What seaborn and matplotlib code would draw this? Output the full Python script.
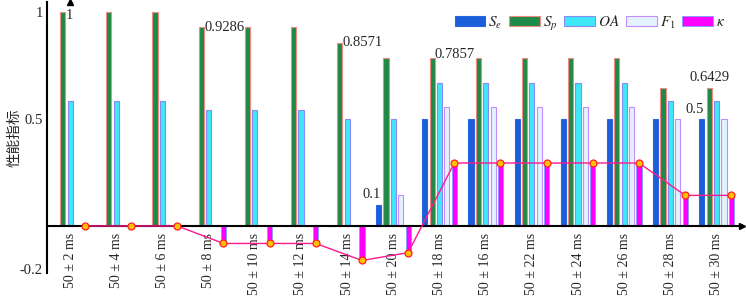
import numpy as np
import pandas as pd
import matplotlib
matplotlib.use('Agg')
import matplotlib.pyplot as plt
import seaborn as sns

# 数据
conds = ['50 ± 2 ms', '50 ± 4 ms', '50 ± 6 ms', '50 ± 8 ms', '50 ± 10 ms',
         '50 ± 12 ms', '50 ± 14 ms', '50 ± 20 ms', '50 ± 18 ms', '50 ± 16 ms',
         '50 ± 22 ms', '50 ± 24 ms', '50 ± 26 ms', '50 ± 28 ms', '50 ± 30 ms']
se = [0, 0, 0, 0, 0, 0, 0, 0.1, 0.5, 0.5, 0.5, 0.5, 0.5, 0.5, 0.5]
sp = [1, 1, 1, 0.9286, 0.9286, 0.9286, 0.8571, 0.7857, 0.7857, 0.7857,
      0.7857, 0.7857, 0.7857, 0.6429, 0.6429]
oa = [0.5833, 0.5833, 0.5833, 0.5417, 0.5417, 0.5417, 0.5, 0.5, 0.6667,
      0.6667, 0.6667, 0.6667, 0.6667, 0.5833, 0.5833]
f1 = [0, 0, 0, 0, 0, 0, 0, 0.1429, 0.5556, 0.5556, 0.5556, 0.5556, 0.5556,
      0.5, 0.5]
kappa = [0, 0, 0, -0.082, -0.082, -0.082, -0.1613, -0.125, 0.2941, 0.2941,
         0.2941, 0.2941, 0.2941, 0.1429, 0.1429]

metrics = ['Se', 'Sp', 'OA', 'F1', 'kappa']
labels = ['$S_e$', '$S_p$', '$OA$', '$F_1$', r'$\kappa$']
fills = {'Se': '#1a5fd8', 'Sp': '#1e8a4a', 'OA': '#3ee8f8', 'F1': '#e3f2ff', 'kappa': '#ff00ff'}
edges = {'Se': '#2a66e0', 'Sp': '#f08a80', 'OA': '#8a8af5', 'F1': '#c38cff', 'kappa': '#7aa0ff'}

df = pd.DataFrame({
    'cond': conds * 5,
    'metric': np.repeat(metrics, len(conds)),
    'value': se + sp + oa + f1 + kappa,
})

sns.set_style('white')
plt.rcParams['font.family'] = ['Liberation Serif', 'Noto Sans CJK SC']
plt.rcParams['mathtext.fontset'] = 'stix'
plt.rcParams['axes.unicode_minus'] = False

fig = plt.figure(figsize=(7.46, 3.05), dpi=100)
ax = fig.add_axes([47 / 746, 1 - 273 / 305, 695 / 746, 270.6 / 305])

sns.barplot(data=df, x='cond', y='value', hue='metric', order=conds,
            hue_order=metrics, palette=fills, width=0.8, gap=0.3,
            saturation=1, legend=False, ax=ax, zorder=2)
for cont, m in zip(ax.containers, metrics):
    for bar in cont:
        bar.set_edgecolor(edges[m])
        bar.set_linewidth(0.6 if m == 'kappa' else 0.8)

step = 0.8 / 5
idx = np.arange(len(conds))
ax.plot(idx + 2 * step, kappa, color='#ff1a8c', lw=1, marker='o', ms=5,
        mfc='#ffc000', mec='#ff2020', mew=0.9, zorder=4)

# 数值标注
ax.text(0 - step + 0.06, sp[0] - 0.015, '1', ha='left', va='center', fontsize=10.5)
ax.text(3 - step + 0.06, sp[3], '0.9286', ha='left', va='center', fontsize=10.5)
ax.text(6 - step + 0.06, sp[6], '0.8571', ha='left', va='center', fontsize=10.5)
ax.text(8 - step + 0.06, sp[8] + 0.015, '0.7857', ha='left', va='center', fontsize=10.5)
ax.text(7 - 2 * step + 0.05, se[7] + 0.015, '0.1', ha='right', va='bottom', fontsize=10.5)
ax.text(14 - step, sp[14] + 0.02, '0.6429', ha='center', va='bottom', fontsize=10.5)
ax.text(14 - 2 * step + 0.05, se[14] + 0.015, '0.5', ha='right', va='bottom', fontsize=10.5)

ax.set_xlim(-0.5, 14.55)
ax.set_ylim(-0.22, 1.045)
ax.set_yticks([-0.2, 0.5, 1])
ax.set_yticklabels(['-0.2', '0.5', '1'])
ax.set_xticks(idx)
ax.set_xticklabels(conds, fontsize=10.5)
ax.tick_params(axis='y', direction='in', length=4, width=1, labelsize=10.5, pad=3)
ax.tick_params(axis='x', direction='in', length=3, width=0.8, color='#207070',
               pad=5, labelrotation=90)
for t in ax.get_xticklabels():
    t.set_rotation(90)
    t.set_va('top')
    t.set_ha('center')
ax.set_xlabel('')
ax.set_ylabel('性能指标', family=['Noto Sans CJK SC'], fontsize=10.5)
ax.yaxis.set_label_coords(-0.037, 0.5)

ax.spines['top'].set_visible(False)
ax.spines['right'].set_visible(False)
ax.spines['bottom'].set_position(('data', 0))
ax.spines['left'].set_linewidth(1.5)
ax.spines['bottom'].set_linewidth(1.5)
ax.spines['left'].set_color('black')
ax.spines['bottom'].set_color('black')
ax.plot(1, 0, '>k', ms=5, transform=ax.get_yaxis_transform(), clip_on=False)
ax.plot(0, 1, '^k', ms=5, transform=ax.get_xaxis_transform(), clip_on=False)

ax.legend(ax.containers, labels, ncol=5, frameon=False, fontsize=11,
          loc='center', bbox_to_anchor=(0.781, 0.922), handlelength=2.0,
          handleheight=0.6, handletextpad=0.2, columnspacing=0.45)

fig.savefig('out.png', dpi=100)
